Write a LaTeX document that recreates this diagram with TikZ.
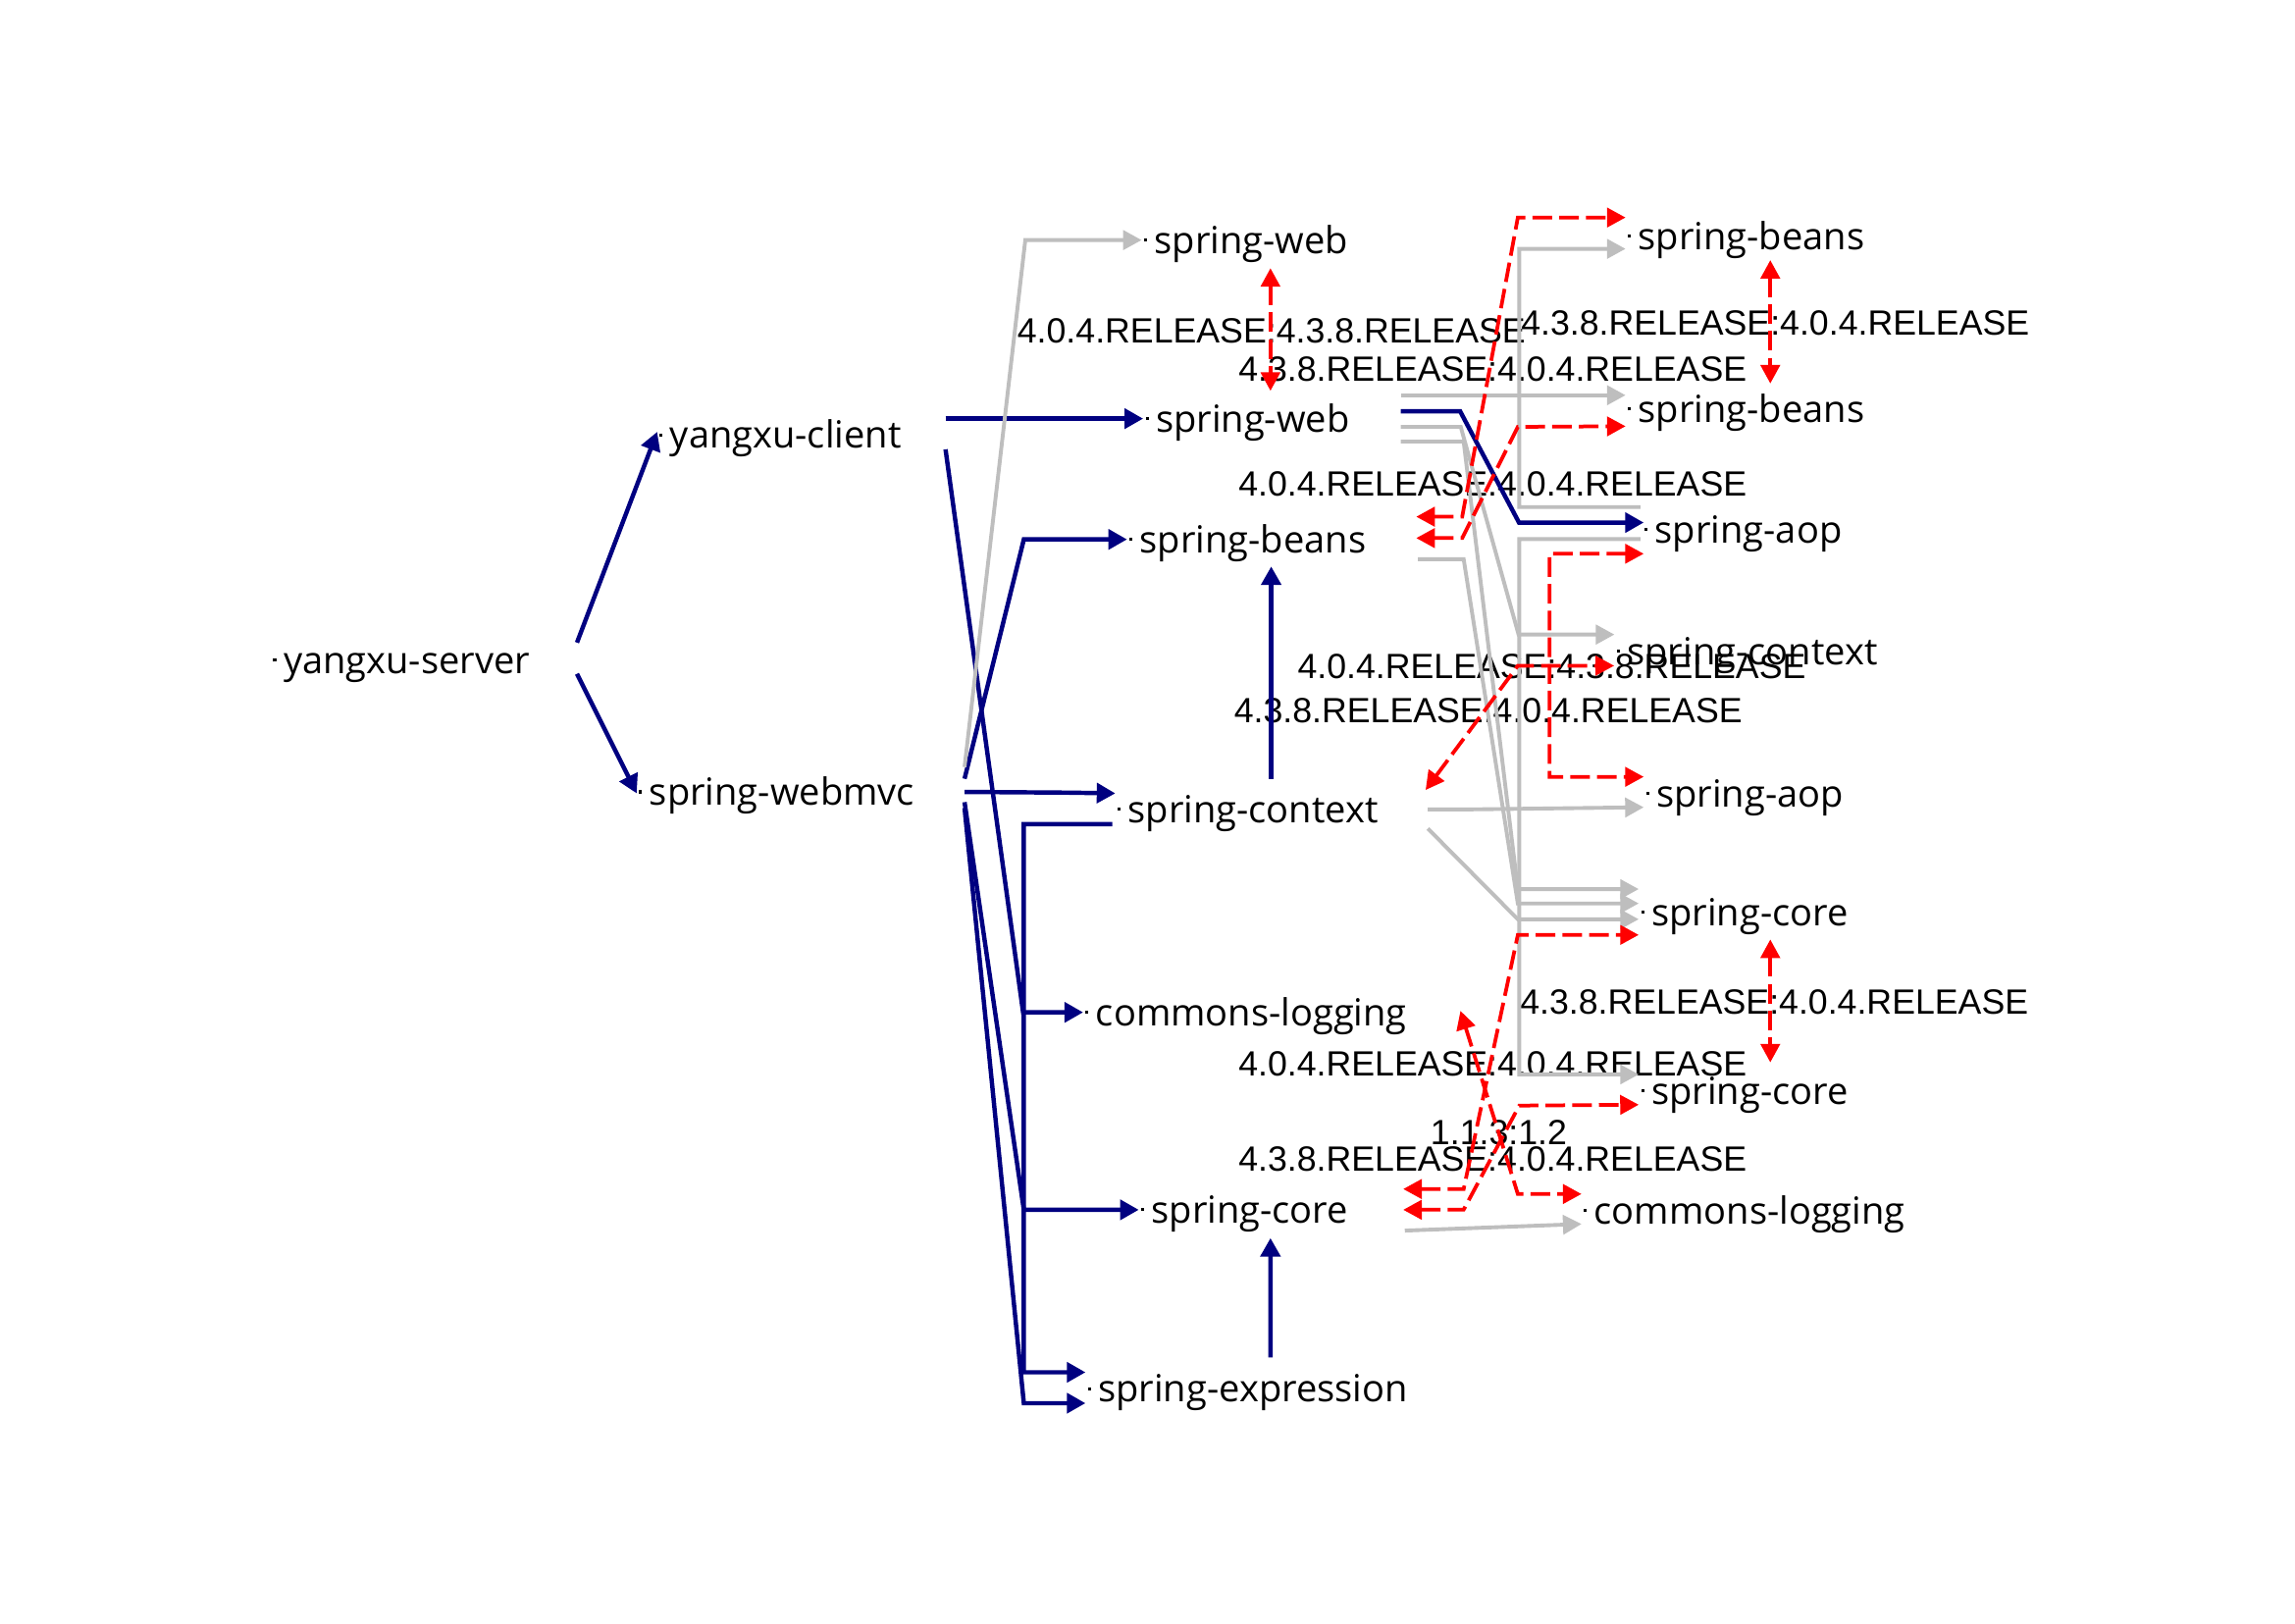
\documentclass[tikz,border=0pt]{standalone}
\usepackage{fontspec}
\usetikzlibrary{arrows.meta,calc}
\newfontfamily\nodefont{Open Sans}
\newfontfamily\lblfont{Liberation Sans}
\definecolor{dnavy}{RGB}{0,0,128}
\definecolor{lgray}{RGB}{190,190,190}
\definecolor{cred}{RGB}{255,0,0}
\newcommand{\ndot}{\hspace{0.9pt}\rule[4.45pt]{1.1pt}{1.1pt}\hspace{2.7pt}}
\begin{document}
\begin{tikzpicture}[x=0.537pt,y=-0.537pt,
  nd/.style={anchor=west,inner sep=0pt,outer sep=0pt,text height=13pt,text depth=3pt,font=\nodefont\fontsize{13.7}{16}\selectfont},
  lbl/.style={anchor=base west,inner sep=0pt,font=\lblfont\fontsize{12.85}{15}\selectfont},
  dep/.style={draw=dnavy,line width=1.6pt,-{Triangle[length=6.8pt,width=7.2pt]}},
  omit/.style={draw=lgray,line width=1.4pt,-{Triangle[length=6.8pt,width=7pt]}},
  conf/.style={draw=cred,line width=1.35pt,dash pattern=on 7.2pt off 2.6pt,{Triangle[length=6.8pt,width=7pt]}-{Triangle[length=6.8pt,width=7pt]}}
]
\fill[white] (0,0) rectangle (1568,1109);
\useasboundingbox (0,0) rectangle (1568,1109);

% nodes
\node[nd] (srv) at (185,451) {\ndot yangxu-server};
\node[nd] (cli) at (449,297) {\ndot yangxu-client};
\node[nd] (mvc) at (435,541) {\ndot spring-webmvc};
\node[nd] (webT) at (780,164) {\ndot spring-web};
\node[nd] (web2) at (781,286) {\ndot spring-web};
\node[nd] (beansL) at (770,368.5) {\ndot spring-beans};
\node[nd] (ctxL) at (762,553) {\ndot spring-context};
\node[nd] (clL) at (740,691.6) {\ndot commons-logging};
\node[nd] (coreL) at (778,826.5) {\ndot spring-core};
\node[nd] (expr) at (741.6,948.6) {\ndot spring-expression};
\node[nd] (beansT) at (1110.6,161) {\ndot spring-beans};
\node[nd] (beans2) at (1110.6,279.5) {\ndot spring-beans};
\node[nd] (aop1) at (1122,361.5) {\ndot spring-aop};
\node[nd] (ctxR) at (1103,445) {\ndot spring-context};
\node[nd] (aop2) at (1123,542) {\ndot spring-aop};
\node[nd] (coreR1) at (1119.6,623) {\ndot spring-core};
\node[nd] (coreR2) at (1119.6,745) {\ndot spring-core};
\node[nd] (clR) at (1080.5,827) {\ndot commons-logging};

% labels
\node[lbl] (l1) at (694.7,234.6) {4.0.4.RELEASE:4.3.8.RELEASE};
\node[lbl] (l2) at (845.8,260.3) {4.3.8.RELEASE:4.0.4.RELEASE};
\node[lbl] (l3) at (1038.9,229) {4.3.8.RELEASE:4.0.4.RELEASE};
\node[lbl] (l4) at (845.8,338.6) {4.0.4.RELEASE:4.0.4.RELEASE};
\node[lbl] (l5) at (886.2,463.7) {4.0.4.RELEASE:4.3.8.RELEASE};
\node[lbl] (l6) at (842.8,493.9) {4.3.8.RELEASE:4.0.4.RELEASE};
\node[lbl] (l7) at (1038.2,692.7) {4.3.8.RELEASE:4.0.4.RELEASE};
\node[lbl] (l8) at (845.8,735.2) {4.0.4.RELEASE:4.0.4.RELEASE};
\node[lbl] (l9) at (977,782.1) {1.1.3:1.2};
\node[lbl] (l10) at (845.8,800) {4.3.8.RELEASE:4.0.4.RELEASE};

% used dependencies (navy)
\draw[dep] ($(srv.west)+(209.2,-12)$) -- ($(cli.west)+(0,-2)$);
\draw[dep] ($(srv.west)+(209.2,9.3)$) -- ($(mvc.west)+(0,1)$);
\draw[dep] ($(cli.west)+(197,-11)$) -- (web2.west);
\draw[dep] ($(cli.west)+(197,10)$) -- (699,691.6) -- (clL.west);
\draw[dep] ($(mvc.west)+(224,-9)$) -- (699.5,368.5) -- (beansL.west);
\draw[dep] ($(mvc.west)+(224,0)$) -- (730,541.5) -- ($(ctxL.west)+(0,-11)$);
\draw[dep] ($(mvc.west)+(224,7)$) -- (699.5,826.5) -- (coreL.west);
\draw[dep] ($(mvc.west)+(224,11)$) -- (699.5,958.6) -- ($(expr.west)+(0,10)$);
\draw[dep] ($(ctxL.west)+(-2,10)$) -- (699.5,563) -- (699.5,937.5) -- ($(expr.west)+(0,-11.1)$);
\draw[dep] ($(ctxL.west)+(106.5,-21)$) -- ($(beansL.west)+(98.5,18.5)$);
\draw[dep] ($(expr.west)+(126.4,-21.2)$) -- ($(coreL.west)+(90,19.3)$);
\draw[dep] ($(web2.west)+(176,-5)$) -- (997.6,281) -- (1037.8,357) -- ($(aop1.west)+(1,-4.5)$);

% omitted dependencies (gray)
\draw[omit] ($(mvc.west)+(224,-17)$) -- (700.5,164) -- (webT.west);
\draw[omit] ($(web2.west)+(176,-16)$) -- ($(beans2.west)+(0,-9.5)$);
\draw[omit] ($(web2.west)+(176,5.6)$) -- (998,291.6) -- (1037.5,433.5) -- ($(ctxR.west)+(0,-11.5)$);
\draw[omit] ($(web2.west)+(176,15.7)$) -- (1000,301.7) -- (1037,607.4) -- ($(coreR1.west)+(0,-15.6)$);
\draw[omit] ($(beansL.west)+(198.7,13.5)$) -- (1000,382) -- (1037,617.2) -- ($(coreR1.west)+(0,-5.8)$);
\draw[omit] ($(ctxL.west)+(213.5,0)$) -- (1000,553) -- ($(aop2.west)+(0,9.5)$);
\draw[omit] ($(ctxL.west)+(213.5,13)$) -- (1037,628) -- ($(coreR1.west)+(0,5)$);
\draw[omit] ($(aop1.west)+(-1.3,-15.1)$) -- (1038,346.4) -- (1038,170) -- ($(beansT.west)+(0,9)$);
\draw[omit] ($(aop1.west)+(-1.3,6.8)$) -- (1038,368.3) -- (1038,734) -- ($(coreR2.west)+(0,-11)$);
\draw[omit] ($(coreL.west)+(181.8,14.2)$) -- ($(clR.west)+(0,9.2)$);

% version conflicts (red dashed)
\draw[conf] ($(webT.west)+(88,19.2)$) -- ($(web2.west)+(87,-19)$);
\draw[conf] ($(beansT.west)+(98.9,16.7)$) -- ($(beans2.west)+(98.9,-17.5)$);
\draw[conf] ($(coreR1.west)+(89.9,18.8)$) -- ($(coreR2.west)+(89.9,-19.2)$);
\draw[conf] ($(beansL.west)+(197.6,-15.5)$) -- (999,353) -- (1037,148.6) -- ($(beansT.west)+(0,-12.4)$);
\draw[conf] ($(beansL.west)+(197.6,-0.9)$) -- (999,367.6) -- (1037,291.6) -- ($(beans2.west)+(0,11.7)$);
\draw[conf] ($(ctxL.west)+(212,-13.3)$) -- (1037,454.8) -- ($(ctxR.west)+(-0.2,9.8)$);
\draw[conf] ($(aop1.west)+(1,16.8)$) -- (1058.6,378.3) -- (1058.6,530.7) -- ($(aop2.west)+(0,-11.3)$);
\draw[conf] ($(coreL.west)+(180.7,-14.2)$) -- (1000,812.3) -- (1037,638.7) -- ($(coreR1.west)+(0,15.7)$);
\draw[conf] ($(coreL.west)+(180.7,0)$) -- (1000,826.4) -- (1038,755.3) -- ($(coreR2.west)+(0,9.7)$);
\draw[conf] ($(clL.west)+(257.8,-1)$) -- (1037,815.7) -- ($(clR.west)+(0,-11.3)$);
\end{tikzpicture}
\end{document}
